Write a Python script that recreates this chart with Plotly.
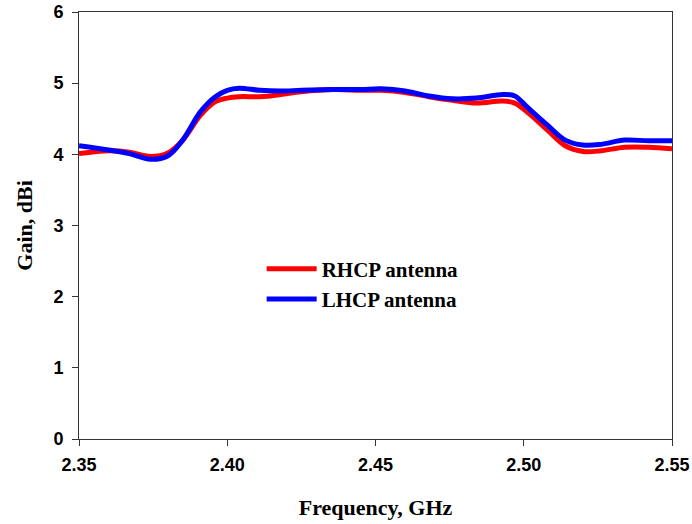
import plotly.graph_objects as go

freq = [2.350, 2.360, 2.367, 2.374, 2.380, 2.385, 2.391, 2.396, 2.400, 2.404, 2.411, 2.418, 2.425, 2.436, 2.445, 2.452, 2.460, 2.468, 2.476, 2.484, 2.493, 2.497, 2.501, 2.508, 2.514, 2.520, 2.526, 2.534, 2.542, 2.550]
rhcp = [4.01, 4.05, 4.03, 3.97, 4.02, 4.20, 4.55, 4.74, 4.79, 4.81, 4.81, 4.84, 4.88, 4.91, 4.90, 4.90, 4.87, 4.81, 4.76, 4.72, 4.75, 4.72, 4.60, 4.34, 4.12, 4.04, 4.05, 4.10, 4.10, 4.08]
lhcp = [4.12, 4.06, 4.01, 3.93, 3.98, 4.20, 4.60, 4.81, 4.90, 4.93, 4.90, 4.89, 4.90, 4.91, 4.91, 4.92, 4.89, 4.82, 4.78, 4.79, 4.84, 4.82, 4.67, 4.41, 4.20, 4.13, 4.14, 4.20, 4.19, 4.19]

x_ticks = [2.35, 2.40, 2.45, 2.50, 2.55]
x_labels = ["2.35", "2.40", "2.45", "2.50", "2.55"]
y_ticks = [0, 1, 2, 3, 4, 5, 6]
y_labels = ["0", "1", "2", "3", "4", "5", "6"]

fig = go.Figure()
fig.add_trace(go.Scatter(x=freq, y=rhcp, mode="lines", name="<b>RHCP antenna</b>",
                         line=dict(color="#ff0000", width=5, shape="spline", smoothing=1.0)))
fig.add_trace(go.Scatter(x=freq, y=lhcp, mode="lines", name="<b>LHCP antenna</b>",
                         line=dict(color="#0000ff", width=5, shape="spline", smoothing=1.0)))

axis_common = dict(showline=True, linecolor="#333333", linewidth=1, mirror=True, automargin=False,
                   ticks="outside", ticklen=6, tickcolor="#333333", showgrid=False, zeroline=False,
                   tickfont=dict(family="Liberation Sans, Arial", size=18, color="black"))

title_font = dict(family="Liberation Serif, Times New Roman", size=22, color="black")

fig.update_layout(
    width=692, height=524,
    margin=dict(l=79, r=20, t=12, b=85),
    paper_bgcolor="white", plot_bgcolor="white",
    xaxis=dict(range=[2.35, 2.55], tickvals=x_ticks, ticktext=["<b>%s</b>" % t for t in x_labels],
               ticklabelstandoff=3,
               title=dict(text="<b>Frequency, GHz</b>", standoff=26, font=title_font),
               **axis_common),
    yaxis=dict(range=[0, 6], tickvals=y_ticks, ticktext=["<b>%s</b>" % t for t in y_labels],
               ticklabelstandoff=5,
               title=dict(text="<b>Gain, dBi</b>", standoff=14, font=title_font),
               **axis_common),
    legend=dict(x=0.308, y=0.446, xanchor="left", yanchor="top", bgcolor="rgba(0,0,0,0)",
                font=dict(family="Liberation Serif, Times New Roman", size=21, color="black"),
                tracegroupgap=0, itemwidth=50),
    showlegend=True,
)

fig.write_html("out.html", config={"displayModeBar": False},
               post_script="document.body.style.margin='0';document.body.style.overflow='hidden';")
